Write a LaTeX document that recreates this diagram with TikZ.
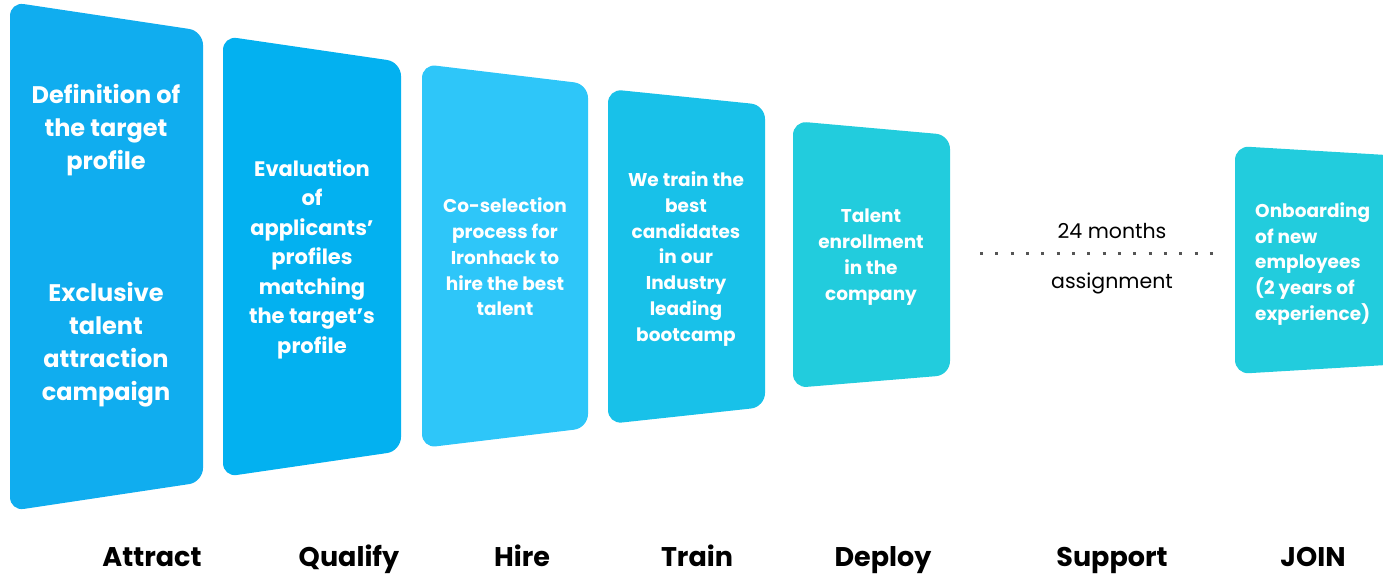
\documentclass[tikz,border=0pt]{standalone}
\usepackage{fontspec}
\setmainfont{Poppins}
\definecolor{cardA}{HTML}{10ADEF}
\definecolor{cardB}{HTML}{03B1F0}
\definecolor{cardC}{HTML}{2EC6F9}
\definecolor{cardD}{HTML}{18C1E9}
\definecolor{cardE}{HTML}{22CCDD}
\definecolor{dotgray}{HTML}{555555}
\tikzset{
  card/.style={rounded corners=14pt},
  cardtext/.style={text=white, align=center, inner sep=0pt,
    font=\fontsize{18.5}{25.8}\selectfont\bfseries},
  stagelabel/.style={anchor=base, inner sep=0pt,
    font=\fontsize{27}{30}\selectfont\bfseries},
  plainlabel/.style={inner sep=0pt, font=\fontsize{20.5}{24}\selectfont},
}
\begin{document}
\begin{tikzpicture}[x=1pt, y=-1pt]
\useasboundingbox (0,0) rectangle (1383,574);
\clip (0,0) rectangle (1383,574);

% stage cards, each a slanted rounded panel
\fill[cardA, card] (10,2) -- (203,31) -- (203,482) -- (10,511) -- cycle;
\fill[cardB, card] (223,36) -- (401,62) -- (401,451) -- (223,477) -- cycle;
\fill[cardC, card] (422,64) -- (588,84) -- (588,428) -- (422,448) -- cycle;
\fill[cardD, card] (608,89) -- (765,105) -- (765,407) -- (608,424) -- cycle;
\fill[cardE, card] (793,121) -- (950,135) -- (950,375) -- (793,388) -- cycle;
\fill[cardE, card] (1235,146) -- (1420,157) -- (1420,363) -- (1235,374) -- cycle;

% card texts
\node[cardtext, font=\fontsize{24}{33}\selectfont\bfseries] (attractA) at (106,130) {Definition of\\the target\\profile};
\node[cardtext, font=\fontsize{24}{33}\selectfont\bfseries] (attractB) at (106,345) {Exclusive\\talent\\attraction\\campaign};
\node[cardtext, font=\fontsize{21}{29.5}\selectfont\bfseries] (qualifyT) at (312,259) {Evaluation\\of\\applicants’\\profiles\\matching\\the target’s\\profile};
\node[cardtext] (hireT) at (505,257) {Co-selection\\process for\\Ironhack to\\hire the best\\talent};
\node[cardtext] (trainT) at (686,259) {We train the\\best\\candidates\\in our\\Industry\\leading\\bootcamp};
\node[cardtext] (deployT) at (871,257) {Talent\\enrollment\\in the\\company};
\node[cardtext, align=left, anchor=west] (joinT) at (1255,264) {Onboarding\\of new\\employees\\(2 years of\\experience)};

% assignment period between deploy and join
\coordinate (dotsL) at (980,253);
\coordinate (dotsR) at (1213,253);
\draw[dotgray, line width=3pt, dash pattern=on 3pt off 12.33pt] (dotsL) -- (dotsR);
\node[plainlabel] (months) at (1112,231) {24 months};
\node[plainlabel] (assign) at (1112,283) {assignment};

% stage names
\node[stagelabel] (lAttract) at (152,566) {Attract};
\node[stagelabel] (lQualify) at (349,566) {Qualify};
\node[stagelabel] (lHire) at (522,566) {Hire};
\node[stagelabel] (lTrain) at (697,566) {Train};
\node[stagelabel] (lDeploy) at (883,566) {Deploy};
\node[stagelabel] (lSupport) at (1112,566) {Support};
\node[stagelabel] (lJoin) at (1313,566) {JOIN};
\end{tikzpicture}
\end{document}
